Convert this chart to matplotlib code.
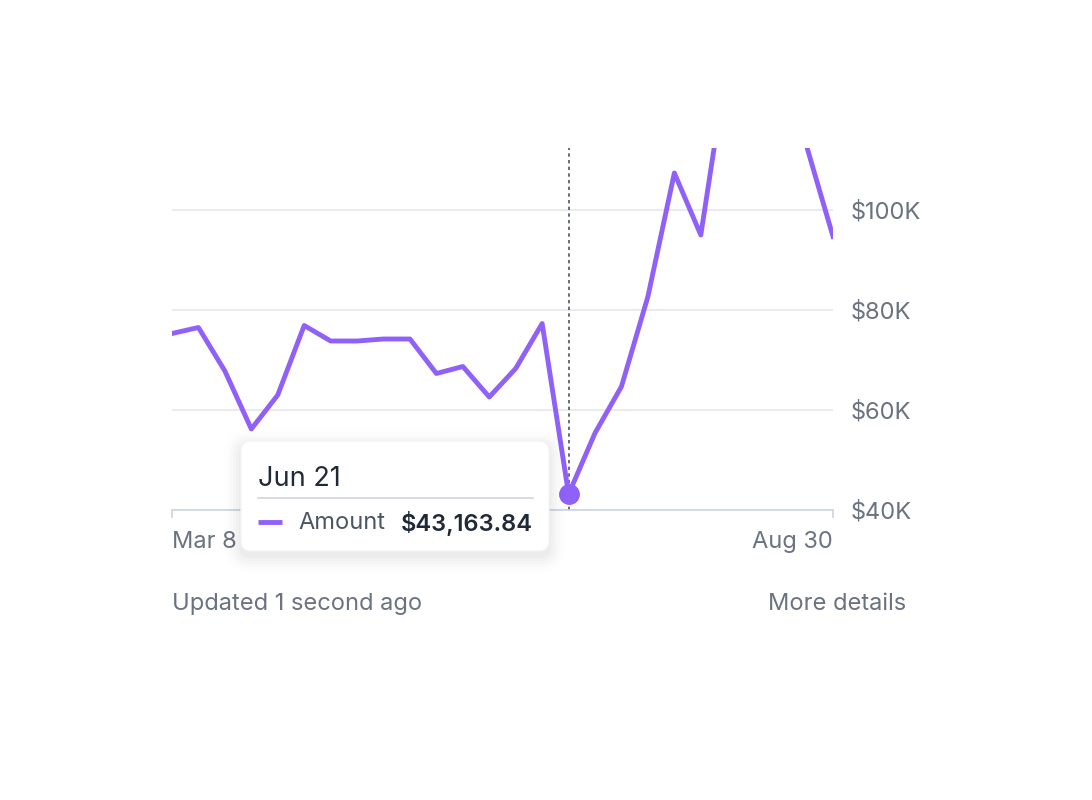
import matplotlib
matplotlib.use("Agg")
import matplotlib.pyplot as plt
import matplotlib.transforms as mtransforms
from matplotlib.patches import FancyBboxPatch
from matplotlib.lines import Line2D

plt.rcParams['font.family'] = ['Inter', 'DejaVu Sans']

# weekly amounts, Mar 8 .. Aug 30
amounts = [75300, 76500, 67800, 56200, 63000, 76900, 73800, 73800, 74200, 74200,
           67300, 68700, 62600, 68300, 77300, 43163.84, 55400, 64700, 82700, 107400,
           95000, 129500, 126000, 120500, 112800, 94700]
first_label = "Mar 8"
last_label = "Aug 30"
y_ticks = [40000, 60000, 80000, 100000]
y_tick_labels = ["$40K", "$60K", "$80K", "$100K"]
hover_index = 15
hover_date = "Jun 21"
series_name = "Amount"

purple = "#9061f9"
gray_text = "#6b7280"
dark_text = "#1f2937"
grid_col = "#e5e7eb"
axis_col = "#cbd5e1"
fs = 17

W, H = 1092, 800
fig = plt.figure(figsize=(W / 100, H / 100), dpi=100)
# pixel coords with origin at top-left
px = mtransforms.Affine2D().scale(1, -1).translate(0, H)

ax = fig.add_axes([172 / W, 1 - 510 / H, (833 - 172) / W, (510 - 148) / H])
x = list(range(len(amounts)))
ax.plot(x, amounts, color=purple, lw=3.5, solid_joinstyle='round', zorder=3)
ax.set_xlim(0, len(amounts) - 1)
ax.set_ylim(40000, 112400)

for s in ["top", "left", "right"]:
    ax.spines[s].set_visible(False)
ax.spines["bottom"].set_color(axis_col)
ax.spines["bottom"].set_linewidth(1.2)

ax.yaxis.tick_right()
ax.set_yticks(y_ticks)
ax.set_yticklabels(y_tick_labels, fontsize=fs, color=gray_text)
ax.tick_params(axis='y', length=0, pad=13)
ax.grid(axis='y', color=grid_col, lw=1.2, zorder=0)

ax.set_xticks([0, len(amounts) - 1])
ax.set_xticklabels([])
ax.tick_params(axis='x', length=6, color=axis_col, width=1.2, direction='out')

# hover guide + point
ax.axvline(hover_index, color="#4b5563", lw=1.2, ls=(0, (2, 2)), zorder=2)
ax.plot(hover_index, amounts[hover_index], 'o', ms=14, color=purple, zorder=5, clip_on=False)

fig.text(172, 542, first_label, transform=px, fontsize=fs, color=gray_text, ha='left', va='center')
fig.text(833, 542, last_label, transform=px, fontsize=fs, color=gray_text, ha='right', va='center')

fig.text(172, 604, "Updated 1 second ago", transform=px, fontsize=fs, color=gray_text,
         ha='left', va='center')
fig.text(906, 604, "More details", transform=px, fontsize=fs, color=gray_text,
         ha='right', va='center')

# tooltip with soft shadow
bx, by, bw, bh = 241, 441, 308, 110
for i, a in enumerate([0.02, 0.017, 0.014, 0.011, 0.008, 0.005]):
    g = 2 + i * 3
    sh = FancyBboxPatch((bx - g, by - g + 5), bw + 2 * g, bh + 2 * g,
                        boxstyle="round,pad=0,rounding_size=%d" % (10 + g),
                        transform=px, facecolor="black", edgecolor="none", alpha=a, zorder=10)
    fig.add_artist(sh)
box = FancyBboxPatch((bx, by), bw, bh, boxstyle="round,pad=0,rounding_size=10",
                     transform=px, facecolor="white", edgecolor="#f3f4f6", lw=1, zorder=11)
fig.add_artist(box)

fig.text(258, 479, hover_date, transform=px, fontsize=19.5, color=dark_text,
         ha='left', va='center', zorder=12)
fig.add_artist(Line2D([258, 533], [498, 498], transform=px, color="#d1d5db", lw=1.2, zorder=12))
fig.add_artist(Line2D([258, 282], [522, 522], transform=px, color=purple, lw=3.5,
                      solid_capstyle='butt', zorder=12))
fig.text(298, 523, series_name, transform=px, fontsize=fs, color="#4b5563",
         ha='left', va='center', zorder=12)
fig.text(533, 523, "${:,.2f}".format(amounts[hover_index]), transform=px, fontsize=fs,
         color=dark_text, fontweight='semibold', ha='right', va='center', zorder=12)

fig.savefig("out.png", dpi=100, facecolor="white")
